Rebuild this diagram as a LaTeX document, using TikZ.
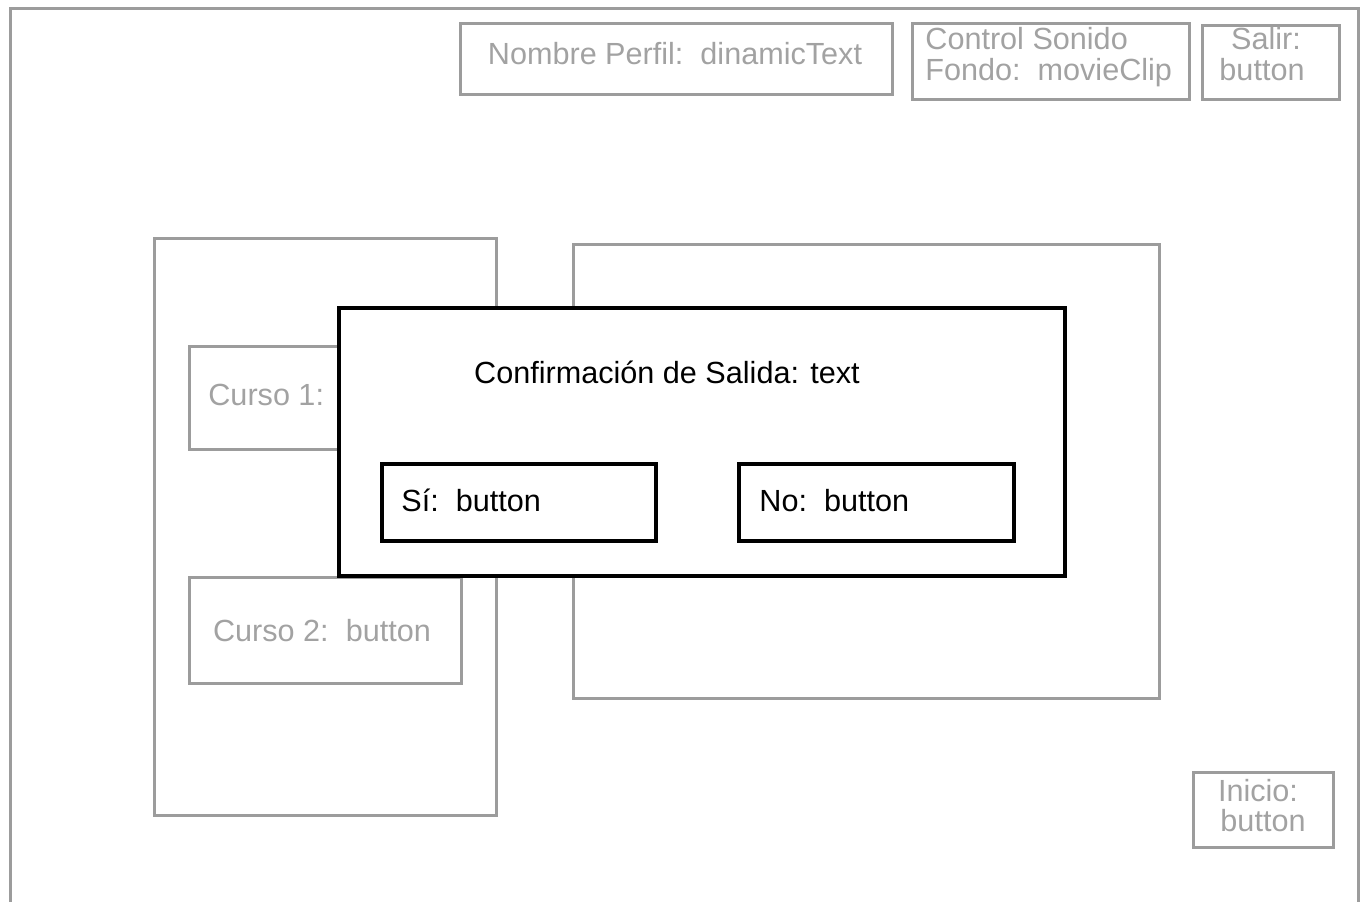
\documentclass[tikz,border=0pt]{standalone}
\usepackage{fontspec}
\setmainfont{Liberation Sans}
\definecolor{framegray}{HTML}{9C9C9C}
\definecolor{labelgray}{HTML}{A2A2A2}
\begin{document}
\begin{tikzpicture}[x=0.5pt,y=-0.5pt,
  gbox/.style={draw=framegray, line width=1.5pt},
  kbox/.style={draw=black, line width=1.6pt, fill=white},
  txt/.style={inner sep=0pt, anchor=base, font=\fontsize{15.3}{18}\selectfont},
  gtxt/.style={txt, text=labelgray},
  ktxt/.style={txt, text=black}]
\useasboundingbox (0,0) rectangle (1368,901);

% screen frame (open at the bottom)
\draw[gbox] (10,905) -- (10,8) -- (1358,8) -- (1358,905);

% top bar
\draw[gbox] (460,23) rectangle (892,94);
\node[gtxt] (perfil) at (675,64) {Nombre Perfil:\ \ dinamicText};

\draw[gbox] (912,23) rectangle (1189,99);
\node[gtxt, anchor=base west] (sonidoA) at (925,49) {Control Sonido};
\node[gtxt, anchor=base west] (sonidoB) at (925,80) {Fondo:\ \ movieClip};

\draw[gbox] (1202,25) rectangle (1339,99);
\node[gtxt] (salirA) at (1266,49) {Salir:};
\node[gtxt] (salirB) at (1262,80) {button};

% bottom-right button
\draw[gbox] (1193,772) rectangle (1333,847);
\node[gtxt] (inicioA) at (1258,801) {Inicio:};
\node[gtxt] (inicioB) at (1263,831) {button};

% course list panel
\draw[gbox] (154,238) rectangle (496,815);
\draw[gbox] (189,346) rectangle (461,449);
\node[gtxt, anchor=base west] (curso1) at (208,405) {Curso 1:};
\draw[gbox] (189,577) rectangle (461,683);
\node[gtxt] (curso2) at (322,641) {Curso 2:\ \ button};

% content panel
\draw[gbox] (573,244) rectangle (1159,698);

% exit confirmation dialog
\draw[kbox] (339,308) rectangle (1065,576);
\node[ktxt] (confirm) at (667,383) {Confirmación de Salida: text};
\draw[kbox] (382,464) rectangle (656,541);
\node[ktxt, anchor=base west] (si) at (401,511) {Sí:\ \ button};
\draw[kbox] (739,464) rectangle (1014,541);
\node[ktxt, anchor=base west] (no) at (759,511) {No:\ \ button};
\end{tikzpicture}
\end{document}
